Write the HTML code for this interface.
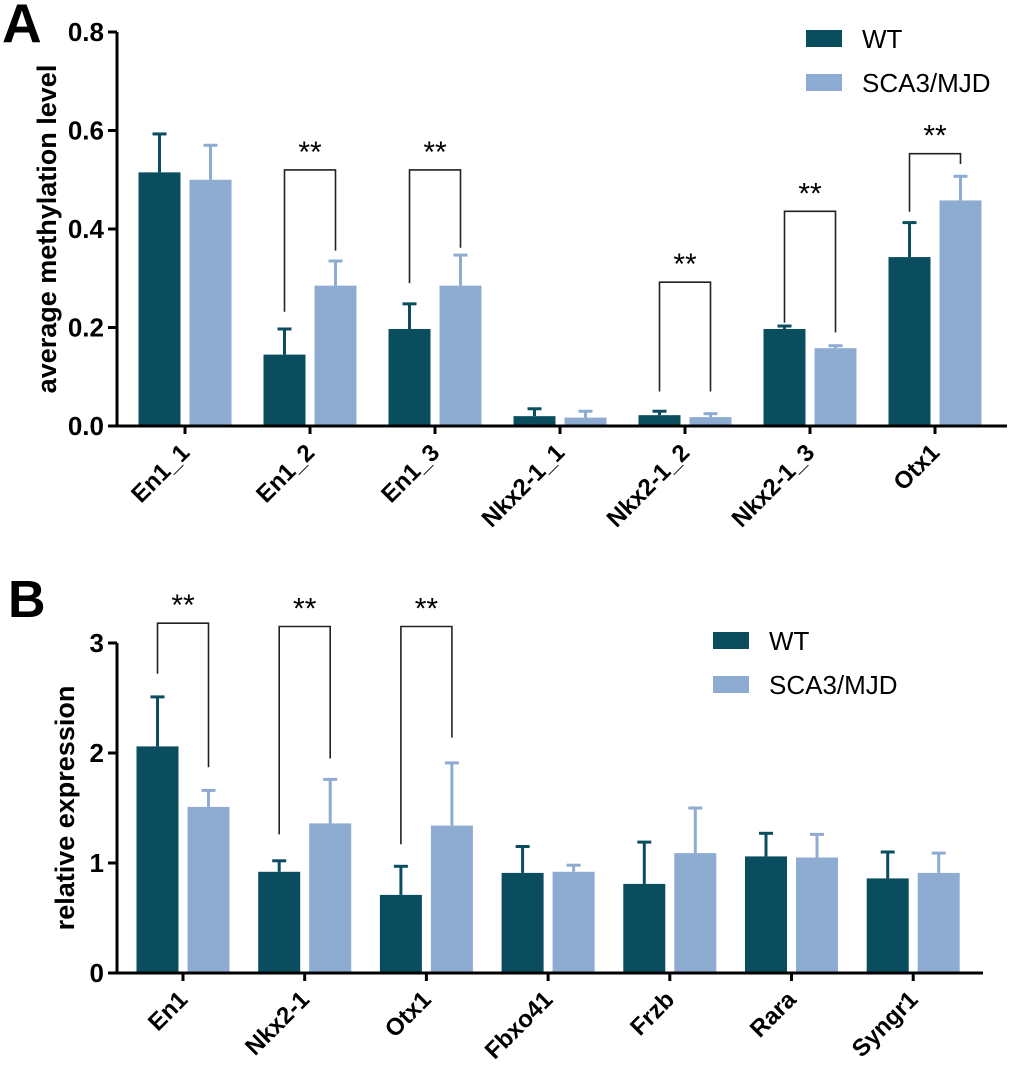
<!DOCTYPE html>
<html><head><meta charset="utf-8"><style>
html,body{margin:0;padding:0;background:#fff;}
svg{display:block;font-family:"Liberation Sans",Arial,sans-serif;}
</style></head><body>
<svg id="fig" width="1020" height="1073" viewBox="0 0 1020 1073"></svg>
<script>
const catsA = ["En1_1","En1_2","En1_3","Nkx2-1_1","Nkx2-1_2","Nkx2-1_3","Otx1"];
const wtA = [0.515,0.145,0.197,0.020,0.022,0.197,0.343];
const wtErrA = [0.593,0.197,0.248,0.035,0.030,0.203,0.413];
const scaA = [0.500,0.285,0.285,0.017,0.018,0.158,0.458];
const scaErrA = [0.570,0.335,0.347,0.030,0.025,0.163,0.507];
const ticksA = [0,0.2,0.4,0.6,0.8];
const tickLabelsA = ["0.0","0.2","0.4","0.6","0.8"];
const bracketGroupsA = [1,2,4,5,6];
const bracketTopA = [0.52,0.52,0.292,0.436,0.553];
const bracketLeftA = [0.232,0.29,0.07,0.21,0.435];
const bracketRightA = [0.356,0.362,0.07,0.19,0.532];

const catsB = ["En1","Nkx2-1","Otx1","Fbxo41","Frzb","Rara","Syngr1"];
const wtB = [2.06,0.92,0.71,0.91,0.81,1.06,0.86];
const wtErrB = [2.51,1.02,0.97,1.15,1.19,1.27,1.10];
const scaB = [1.51,1.36,1.34,0.92,1.09,1.05,0.91];
const scaErrB = [1.66,1.76,1.91,0.98,1.50,1.26,1.09];
const ticksB = [0,1,2,3];
const tickLabelsB = ["0","1","2","3"];
const bracketGroupsB = [0,1,2];
const bracketTopB = [3.18,3.15,3.15];
const bracketLeftB = [2.72,1.26,1.17];
const bracketRightB = [1.87,1.95,2.14];

const NS="http://www.w3.org/2000/svg";
const svg=document.getElementById('fig');
const DARK="#0a4d5f", LIGHT="#8eabd2";
function mk(tag,attrs,parent){const e=document.createElementNS(NS,tag);for(const k in attrs)e.setAttribute(k,attrs[k]);(parent||svg).appendChild(e);return e;}

function panel(cfg){
  const g=mk('g',{});
  
  
  const y=v=>cfg.y0-(v-cfg.ymin)/(cfg.ymax-cfg.ymin)*(cfg.y0-cfg.yTop);
  const xc=i=>cfg.firstTick+i*cfg.step;
  const bw=42, gap=4.5;
  cfg.cats.forEach((c,i)=>{
    [[cfg.wt,cfg.wtErr,DARK,-1,'wt'],[cfg.sca,cfg.scaErr,LIGHT,1,'sca']].forEach(([vals,errs,col,side,nm])=>{
      const x0= side<0 ? xc(i)-gap-bw : xc(i)+gap;
      const cx=x0+bw/2;
      const eb=mk('line',{x1:cx,x2:cx,y1:y(vals[i]),y2:y(errs[i]),stroke:col,'stroke-width':3},g);
      
      
      const cap=mk('line',{x1:cx-7,x2:cx+7,y1:y(errs[i]),y2:y(errs[i]),stroke:col,'stroke-width':3},g);
      
      
      const r=mk('rect',{x:x0,y:y(vals[i]),width:bw,height:y(cfg.ymin)-y(vals[i]),fill:col},g);
      
      
    });
    const t=mk('line',{x1:xc(i),x2:xc(i),y1:cfg.y0,y2:cfg.y0+8,stroke:'#000','stroke-width':3},g);
    
    
    const lx=xc(i)+6, ly=cfg.y0+28;
    const lab=mk('text',{x:lx,y:ly,'text-anchor':'end','font-size':24,'font-weight':'bold',transform:`rotate(-45 ${lx} ${ly})`},g);
    lab.textContent=c;
    
    
  });
  const ya=mk('line',{x1:cfg.axX,x2:cfg.axX,y1:cfg.yTop,y2:cfg.y0+1.5,stroke:'#000','stroke-width':3},g);
  
  
  const xa=mk('line',{x1:cfg.axX-1.5,x2:cfg.axEnd,y1:cfg.y0,y2:cfg.y0,stroke:'#000','stroke-width':3},g);
  
  
  cfg.ticks.forEach((v,k)=>{
    const t=mk('line',{x1:cfg.axX-9,x2:cfg.axX,y1:y(v),y2:y(v),stroke:'#000','stroke-width':3},g);
    
    
    const tl=mk('text',{x:cfg.axX-13,y:y(v)+9,'text-anchor':'end','font-size':26,'font-weight':'bold'},g);
    tl.textContent=cfg.tickLabels[k];
    
    
  });
  const yt=mk('text',{x:0,y:0,'text-anchor':'middle','font-size':27,'font-weight':'bold',transform:`translate(${cfg.titleX} ${(cfg.y0+cfg.yTop)/2}) rotate(-90)`},g);
  yt.textContent=cfg.ytitle;
  
  
  cfg.bg.forEach((gi,k)=>{
    const xl=xc(gi)-gap-bw/2, xr=xc(gi)+gap+bw/2;
    const p=mk('polyline',{points:`${xl},${y(cfg.bl[k])} ${xl},${y(cfg.bt[k])} ${xr},${y(cfg.bt[k])} ${xr},${y(cfg.br[k])}`,fill:'none',stroke:'#222','stroke-width':1.6},g);
    
    
    const s=mk('text',{x:(xl+xr)/2,y:y(cfg.bt[k])-8,'text-anchor':'middle','font-size':30},g);
    s.textContent='**';
    
    
  });
  [[DARK,'WT',0],[LIGHT,'SCA3/MJD',1]].forEach(([col,txt,k])=>{
    const r=mk('rect',{x:cfg.legX,y:cfg.legY+k*44,width:36,height:17,fill:col},g);
    
    
    const t=mk('text',{x:cfg.legX+56,y:cfg.legY+k*44+18,'font-size':26},g);
    t.textContent=txt;
    
    
  });
  const L=mk('text',{x:cfg.letterX,y:cfg.letterY,'font-size':cfg.letterSize,'font-weight':'bold'},g);
  L.textContent=cfg.letter;
  
  
}

panel({name:'panel-a',cats:catsA,wt:wtA,wtErr:wtErrA,sca:scaA,scaErr:scaErrA,ticks:ticksA,tickLabels:tickLabelsA,
  ymin:0,ymax:0.8,y0:426,yTop:32,axX:117,axEnd:1007,firstTick:185,step:125,titleX:56,
  ytitle:'average methylation level',bg:bracketGroupsA,bt:bracketTopA,bl:bracketLeftA,br:bracketRightA,
  legX:806,legY:30,letter:'A',letterX:2,letterY:42,letterSize:55});
panel({name:'panel-b',cats:catsB,wt:wtB,wtErr:wtErrB,sca:scaB,scaErr:scaErrB,ticks:ticksB,tickLabels:tickLabelsB,
  ymin:0,ymax:3,y0:973,yTop:643,axX:117,axEnd:983,firstTick:183,step:121.7,titleX:74,
  ytitle:'relative expression',bg:bracketGroupsB,bt:bracketTopB,bl:bracketLeftB,br:bracketRightB,
  legX:713,legY:632,letter:'B',letterX:8,letterY:617,letterSize:52});
</script>
</body></html>
